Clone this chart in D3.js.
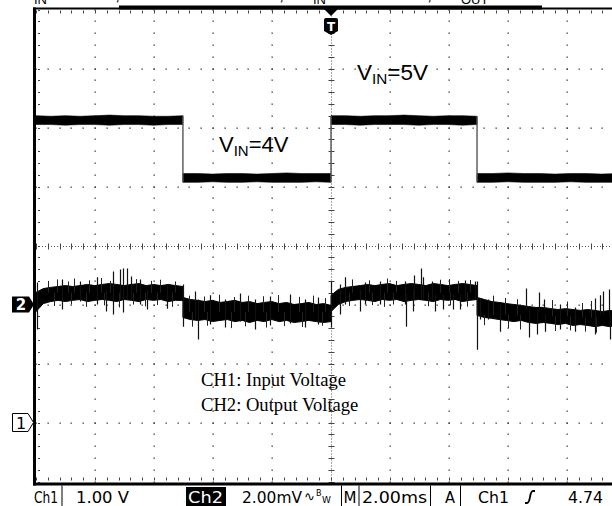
<!DOCTYPE html>
<html>
<head>
<meta charset="utf-8">
<script src="https://cdn.jsdelivr.net/npm/d3@7"></script>
<style>
html, body { margin: 0; padding: 0; background: #fff; }
svg { display: block; }
</style>
</head>
<body>
<script>
var width = 612;
var height = 506;
var left = 36, top0 = 9.5, div = 59;

// scope settings: 2.00ms/div, Ch1 1.00V/div, Ch2 2.00mV/div, 10 x 8 divisions
var timeDomain = [-10, 10];
var ch1Domain = [-1, 7];
var ch2Domain = [-6, 10];

// edges of the input step (ms), segment k runs from segEdges[k] to segEdges[k+1]
var segEdges = [-10, -5.02, 0, 4.95, 9.7];

// CH1 input voltage band (V), upper / lower edge per segment
var ch1Upper = [
  [5.20, 5.19, 5.20, 5.19, 5.20, 5.21, 5.20, 5.20, 5.19, 5.19, 5.20],
  [4.22, 4.22, 4.21, 4.22, 4.22, 4.21, 4.22, 4.23, 4.22, 4.22, 4.22],
  [5.20, 5.20, 5.19, 5.20, 5.20, 5.21, 5.20, 5.19, 5.20, 5.20, 5.19],
  [4.22, 4.22, 4.23, 4.22, 4.22, 4.21, 4.22, 4.22, 4.21, 4.22]
];
var ch1Lower = [
  [5.05, 5.05, 5.04, 5.05, 5.05, 5.04, 5.05, 5.05, 5.04, 5.05, 5.05],
  [4.07, 4.07, 4.08, 4.07, 4.07, 4.08, 4.07, 4.07, 4.07, 4.08, 4.07],
  [5.05, 5.05, 5.04, 5.05, 5.05, 5.05, 5.04, 5.05, 5.05, 5.04, 5.05],
  [4.07, 4.07, 4.08, 4.07, 4.07, 4.07, 4.08, 4.07, 4.07, 4.07]
];

// CH2 output voltage noise band (mV), upper / lower edge per segment
var ch2Upper = [
  [0.41, 0.54, 0.58, 0.61, 0.64, 0.61, 0.64, 0.68, 0.64, 0.68, 0.71, 0.68, 0.64, 0.68, 0.71, 0.64, 0.68, 0.64, 0.68, 0.64, 0.61],
  [0.24, 0.17, 0.14, 0.10, 0.14, 0.07, 0.10, 0.14, 0.07, 0.10, 0.03, 0.07, 0.10, 0.03, 0.07, 0.00, 0.03, 0.07, 0.00, 0.03, -0.03],
  [0.31, 0.51, 0.58, 0.61, 0.64, 0.68, 0.64, 0.68, 0.71, 0.64, 0.68, 0.71, 0.68, 0.64, 0.71, 0.68, 0.64, 0.68, 0.71, 0.68, 0.64],
  [0.24, 0.17, 0.10, 0.07, 0.03, 0.00, -0.03, -0.07, -0.10, -0.10, -0.14, -0.17, -0.14, -0.17, -0.20, -0.17, -0.20, -0.24, -0.20, -0.24]
];
var ch2Lower = [
  [-0.24, 0.03, 0.10, 0.14, 0.10, 0.14, 0.17, 0.10, 0.14, 0.17, 0.14, 0.10, 0.17, 0.14, 0.10, 0.17, 0.14, 0.17, 0.10, 0.14, 0.14],
  [-0.44, -0.51, -0.54, -0.51, -0.58, -0.54, -0.51, -0.58, -0.54, -0.61, -0.54, -0.58, -0.51, -0.58, -0.54, -0.61, -0.58, -0.54, -0.58, -0.61, -0.58],
  [-0.24, 0.00, 0.10, 0.14, 0.17, 0.14, 0.10, 0.17, 0.14, 0.17, 0.10, 0.14, 0.17, 0.14, 0.10, 0.17, 0.14, 0.17, 0.10, 0.14, 0.17],
  [-0.37, -0.44, -0.47, -0.51, -0.54, -0.58, -0.54, -0.61, -0.64, -0.61, -0.64, -0.68, -0.64, -0.71, -0.68, -0.71, -0.75, -0.71, -0.75, -0.71]
];

// CH2 spikes: time (ms), bottom and top (mV)
var spikeT  = [-9.97, -9.12, -8.51, -7.93, -7.63, -7.39, -7.15, -7.05, -6.92, -6.78, -6.47, -6.24, -5.56, -5.02,
               -4.61, -4.51, -4.10, -3.59, -3.08, -2.58, -2.07, -1.39, -0.88, -0.44, 0.00,
               0.31, 0.47, 0.98, 1.15, 1.66, 2.51, 2.54, 2.78, 2.81, 3.05, 3.12, 3.42, 3.53, 3.80, 4.14, 4.37, 4.54, 4.88, 4.95,
               5.05, 5.32, 5.73, 6.61, 6.71, 6.98, 7.05, 7.22, 7.25, 7.76, 8.27, 8.95, 9.12, 9.22, 9.42, 9.46];
var spikeLo = [-0.85, -0.17, 0.10, 0.00, -0.24, -0.34, 0.17, -0.27, 0.17, 0.17, 0.00, -0.17, -0.14, -0.75,
               -0.51, -1.19, -0.68, -0.78, -0.58, -0.85, -0.71, -0.64, -0.78, -0.68, -0.78,
               -0.34, 0.00, -0.24, 0.00, 0.00, 0.00, -0.75, -0.24, 0.17, 0.17, 0.17, 0.17, -0.24, -0.17, -0.17, -0.17, 0.17, 0.17, -1.53,
               -0.51, -0.51, -0.92, -0.17, -1.12, -1.02, -0.17, -0.17, -0.92, -0.85, -0.92, -1.02, -0.34, -0.34, -0.34, -1.19];
var spikeHi = [0.75, 0.85, 0.78, 0.92, 0.51, 1.12, 1.19, 1.22, 1.22, 0.95, 0.85, 0.51, 0.68, 0.68,
               0.44, 0.17, 0.31, 0.17, 0.37, 0.17, 0.27, 0.34, 0.17, 0.24, 0.78,
               0.68, 0.92, 0.51, 0.75, 0.78, 0.78, 0.34, 0.51, 0.98, 1.22, 0.92, 0.78, 0.34, 0.34, 0.34, 0.34, 0.81, 0.78, 0.78,
               0.20, 0.17, 0.00, 0.54, -0.17, -0.17, 0.41, 0.17, -0.34, 0.00, -0.10, 0.20, 0.31, 0.44, 0.51, -0.34];

// CH2 short whiskers just outside the band: time (ms), bottom and top (mV)
var whiskerT  = [-9.6, -9.3, -8.9, -8.7, -8.2, -7.8, -7.5, -6.6, -6.1, -5.8, -5.3,
                 -9.4, -8.8, -8.3, -7.7, -7.2, -6.7, -6.3, -5.9, -5.4,
                 -4.8, -4.3, -3.8, -3.3, -2.8, -2.3, -1.8, -1.1, -0.6, -0.2,
                 -4.7, -4.2, -3.4, -2.9, -2.2, -1.6, -1.0, -0.3,
                 0.7, 1.3, 1.9, 2.2, 3.7, 4.0, 4.3, 4.7,
                 0.6, 1.4, 1.8, 2.1, 3.3, 4.05, 4.6,
                 5.5, 5.9, 6.3, 7.5, 8.0, 8.5, 8.8,
                 5.2, 6.0, 6.4, 7.6, 8.1, 8.6, 9.0];
var whiskerLo = [0.4, 0.4, 0.4, 0.4, 0.4, 0.4, 0.4, 0.4, 0.4, 0.4, 0.4,
                 -0.05, 0.00, -0.08, -0.03, -0.10, 0.00, -0.06, -0.02, -0.08,
                 -0.25, -0.25, -0.25, -0.25, -0.25, -0.25, -0.25, -0.25, -0.25, -0.25,
                 -0.75, -0.72, -0.80, -0.74, -0.78, -0.73, -0.76, -0.72,
                 0.4, 0.4, 0.4, 0.4, 0.4, 0.4, 0.4, 0.4,
                 -0.05, -0.02, -0.08, 0.00, -0.06, -0.03, -0.07,
                 -0.35, -0.35, -0.35, -0.40, -0.40, -0.45, -0.45,
                 -0.70, -0.80, -0.85, -0.90, -0.88, -0.92, -0.95];
var whiskerHi = [0.80, 0.85, 0.78, 0.88, 0.82, 0.90, 0.80, 0.86, 0.80, 0.84, 0.78,
                 0.4, 0.4, 0.4, 0.4, 0.4, 0.4, 0.4, 0.4, 0.4,
                 0.30, 0.27, 0.33, 0.25, 0.30, 0.28, 0.32, 0.26, 0.30, 0.22,
                 -0.25, -0.25, -0.25, -0.25, -0.25, -0.25, -0.25, -0.25,
                 0.85, 0.82, 0.88, 0.80, 0.84, 0.86, 0.80, 0.83,
                 0.4, 0.4, 0.4, 0.4, 0.4, 0.4, 0.4,
                 0.30, 0.22, 0.18, 0.15, 0.10, 0.05, 0.12,
                 -0.35, -0.35, -0.35, -0.40, -0.40, -0.45, -0.45];

var svg = d3.select("body").append("svg")
    .attr("width", width)
    .attr("height", height)
    .attr("viewBox", "0 0 " + width + " " + height);

svg.append("rect").attr("width", width).attr("height", height).attr("fill", "#fff");

var x = d3.scaleLinear().domain(timeDomain).range([left, left + 10 * div]);
var y1 = d3.scaleLinear().domain(ch1Domain).range([top0 + 8 * div, top0]);
var y2 = d3.scaleLinear().domain(ch2Domain).range([top0 + 8 * div, top0]);
var bottom = y1(ch1Domain[0]);

svg.append("clipPath").attr("id", "plot")
  .append("rect")
    .attr("x", left).attr("y", top0)
    .attr("width", 10 * div).attr("height", 8 * div);

// ---- graticule ----
var grid = svg.append("g").attr("fill", "#333");
var minorT = d3.range(0, 51).map(function(i) { return -10 + i * 0.4; });
var minorV = d3.range(0, 41).map(function(i) { return -1 + i * 0.2; });
var divT = [-8, -6, -4, -2, 2, 4, 6, 8];
var divV = [0, 1, 2, 4, 5, 6];

divT.forEach(function(t) {
  grid.selectAll(null).data(minorV).enter().append("rect")
    .attr("x", Math.round(x(t)) - 0.5)
    .attr("y", function(v) { return Math.round(y1(v)) - 0.5; })
    .attr("width", 1.3).attr("height", 1.3);
});
divV.forEach(function(v) {
  grid.selectAll(null).data(minorT).enter().append("rect")
    .attr("x", function(t) { return Math.round(x(t)) - 0.5; })
    .attr("y", Math.round(y1(v)) - 0.5)
    .attr("width", 1.3).attr("height", 1.3);
});

// center cross with fine ticks
var cx = Math.round(x(0)) + 0.5, cy = Math.round(y1(3)) + 0.5;
grid.append("line").attr("x1", cx).attr("x2", cx).attr("y1", top0).attr("y2", bottom)
  .attr("stroke", "#555").attr("stroke-dasharray", "1 2");
grid.append("line").attr("x1", left).attr("x2", width).attr("y1", cy).attr("y2", cy)
  .attr("stroke", "#555").attr("stroke-dasharray", "1 2");
grid.selectAll(null).data(minorV).enter().append("line")
  .attr("x1", cx - 3).attr("x2", cx + 3)
  .attr("y1", function(v) { return Math.round(y1(v)) + 0.5; })
  .attr("y2", function(v) { return Math.round(y1(v)) + 0.5; })
  .attr("stroke", "#444");
grid.selectAll(null).data(minorT).enter().append("line")
  .attr("y1", cy - 3).attr("y2", cy + 3)
  .attr("x1", function(t) { return Math.round(x(t)) + 0.5; })
  .attr("x2", function(t) { return Math.round(x(t)) + 0.5; })
  .attr("stroke", "#444");

// border ticks
grid.selectAll(null).data(minorT).enter().append("line")
  .attr("x1", function(t) { return Math.round(x(t)) + 0.5; })
  .attr("x2", function(t) { return Math.round(x(t)) + 0.5; })
  .attr("y1", top0 + 1).attr("y2", top0 + 4).attr("stroke", "#444");
grid.selectAll(null).data(minorT).enter().append("line")
  .attr("x1", function(t) { return Math.round(x(t)) + 0.5; })
  .attr("x2", function(t) { return Math.round(x(t)) + 0.5; })
  .attr("y1", bottom - 4).attr("y2", bottom - 1).attr("stroke", "#444");
grid.selectAll(null).data(minorV).enter().append("line")
  .attr("x1", left + 2).attr("x2", left + 4)
  .attr("y1", function(v) { return Math.round(y1(v)) + 0.5; })
  .attr("y2", function(v) { return Math.round(y1(v)) + 0.5; })
  .attr("stroke", "#444");

// frame
svg.append("line").attr("x1", left - 1.5).attr("x2", left - 1.5).attr("y1", top0 - 2).attr("y2", bottom + 4)
  .attr("stroke", "#000").attr("stroke-width", 3);
svg.append("line").attr("x1", left - 3).attr("x2", width).attr("y1", top0 - 1).attr("y2", top0 - 1)
  .attr("stroke", "#000").attr("stroke-width", 2);
svg.append("line").attr("x1", left - 3).attr("x2", width).attr("y1", bottom + 2.5).attr("y2", bottom + 2.5)
  .attr("stroke", "#000").attr("stroke-width", 3);

// record position bar and trigger position marker
svg.append("rect").attr("x", 119).attr("y", 5.5).attr("width", 423).attr("height", 4).attr("fill", "#000");
svg.append("path")
  .attr("d", "M" + (x(0) - 7) + ",9 L" + (x(0) + 7) + ",9 L" + x(0) + ",16 Z")
  .attr("fill", "#000");
svg.append("path")
  .attr("d", "M" + (x(0) - 7) + ",20 Q" + (x(0) - 7) + ",18 " + (x(0) - 5) + ",18 L" + (x(0) + 5) + ",18 Q" +
        (x(0) + 7) + ",18 " + (x(0) + 7) + ",20 L" + (x(0) + 7) + ",31 L" + x(0) + ",35 L" + (x(0) - 7) + ",31 Z")
  .attr("fill", "#000");
svg.append("text").attr("x", x(0)).attr("y", 31)
  .attr("text-anchor", "middle").attr("fill", "#fff")
  .attr("font-family", "DejaVu Sans").attr("font-weight", "bold").attr("font-size", 12)
  .text("T");

// ---- traces ----
var traces = svg.append("g").attr("clip-path", "url(#plot)");

function segTimes(k, n) {
  var a = segEdges[k], b = segEdges[k + 1];
  return d3.range(n).map(function(i) { return a + (b - a) * i / (n - 1); });
}

function band(upper, lower, ys) {
  return upper.map(function(up, k) {
    var ts = segTimes(k, up.length);
    return ts.map(function(t, i) { return { t: t, hi: ys(up[i]), lo: ys(lower[k][i]) }; });
  });
}

var area = d3.area()
  .x(function(d) { return x(d.t); })
  .y0(function(d) { return d.lo; })
  .y1(function(d) { return d.hi; });

// CH1
var ch1Bands = band(ch1Upper, ch1Lower, y1);
traces.selectAll(".ch1").data(ch1Bands).enter().append("path")
  .attr("class", "ch1")
  .attr("d", area)
  .attr("fill", "#000")
  .attr("stroke", "#000").attr("stroke-width", 0.6);
// CH1 step edges
traces.selectAll(".ch1edge").data(segEdges.slice(1, -1)).enter().append("line")
  .attr("class", "ch1edge")
  .attr("x1", function(t) { return x(t); })
  .attr("x2", function(t) { return x(t); })
  .attr("y1", function(t, i) { return y1(d3.min([ch1Lower[i][ch1Lower[i].length - 1], ch1Lower[i + 1][0]])); })
  .attr("y2", function(t, i) { return y1(d3.max([ch1Upper[i][ch1Upper[i].length - 1], ch1Upper[i + 1][0]])); })
  .attr("stroke", "#555").attr("stroke-width", 1.4);

// CH2
var ch2Bands = band(ch2Upper, ch2Lower, y2);
traces.selectAll(".ch2").data(ch2Bands).enter().append("path")
  .attr("class", "ch2")
  .attr("d", area)
  .attr("fill", "#000")
  .attr("stroke", "#000").attr("stroke-width", 1);
traces.selectAll(".whisker").data(whiskerT).enter().append("line")
  .attr("class", "whisker")
  .attr("x1", function(t) { return Math.round(x(t)) + 0.5; })
  .attr("x2", function(t) { return Math.round(x(t)) + 0.5; })
  .attr("y1", function(t, i) { return y2(whiskerLo[i]); })
  .attr("y2", function(t, i) { return y2(whiskerHi[i]); })
  .attr("stroke", "#222").attr("stroke-width", 1);
traces.selectAll(".spike").data(spikeT).enter().append("line")
  .attr("class", "spike")
  .attr("x1", function(t) { return Math.round(x(t)) + 0.5; })
  .attr("x2", function(t) { return Math.round(x(t)) + 0.5; })
  .attr("y1", function(t, i) { return y2(spikeLo[i]); })
  .attr("y2", function(t, i) { return y2(spikeHi[i]); })
  .attr("stroke", "#111").attr("stroke-width", 1.2);

// ---- channel ground markers ----
var g2 = y2(0), g1 = y1(0);
svg.append("path")
  .attr("d", "M12," + (g2 - 8) + " L29," + (g2 - 8) + " L34," + g2 + " L29," + (g2 + 8) + " L12," + (g2 + 8) + " Z")
  .attr("fill", "#000");
svg.append("text").attr("x", 21).attr("y", g2 + 5.5)
  .attr("text-anchor", "middle").attr("fill", "#fff")
  .attr("font-family", "DejaVu Sans").attr("font-weight", "bold").attr("font-size", 15)
  .text("2");
svg.append("path")
  .attr("d", "M12.5," + (g1 - 9) + " L28," + (g1 - 9) + " L33.5," + g1 + " L28," + (g1 + 9) + " L12.5," + (g1 + 9) + " Z")
  .attr("fill", "#fff").attr("stroke", "#000").attr("stroke-width", 1);
svg.append("text").attr("x", 21).attr("y", g1 + 6)
  .attr("text-anchor", "middle").attr("fill", "#000")
  .attr("font-family", "DejaVu Sans").attr("font-size", 16)
  .text("1");

// ---- annotations ----
function vin(xp, yp, level, fs) {
  var t = svg.append("text").attr("x", xp).attr("y", yp)
    .attr("font-family", "Liberation Sans, Arial, sans-serif").attr("font-size", fs).attr("fill", "#000");
  t.append("tspan").text("V");
  t.append("tspan").attr("font-size", fs * 0.68).attr("dy", 4).text("IN");
  t.append("tspan").attr("dy", -4).text("=" + level);
}
vin(357, 80, "5V", 22.5);
vin(219, 152, "4V", 22);

svg.append("text").attr("x", 201).attr("y", 386)
  .attr("font-family", "Liberation Serif, Times New Roman, serif").attr("font-size", 18.6)
  .text("CH1: Input Voltage");
svg.append("text").attr("x", 201).attr("y", 411)
  .attr("font-family", "Liberation Serif, Times New Roman, serif").attr("font-size", 18.6)
  .text("CH2: Output Voltage");

// clipped caption line above the screen
var cap = svg.append("g").attr("font-family", "Liberation Sans, Arial, sans-serif").attr("fill", "#000");
[[34, "IN"], [313, "IN"], [461, "OUT"]].forEach(function(s) {
  cap.append("text").attr("x", s[0]).attr("y", 4).attr("font-size", 13).text(s[1]);
});
[115, 279, 427].forEach(function(xp) {
  cap.append("text").attr("x", xp).attr("y", 0).attr("font-size", 18).text(",");
});

// ---- status bar ----
var sb = svg.append("g").attr("font-family", "DejaVu Sans, sans-serif").attr("font-size", 16).attr("fill", "#000");
function field(xp, w, s, color) {
  sb.append("text").attr("x", xp).attr("y", 503)
    .attr("textLength", w).attr("lengthAdjust", "spacingAndGlyphs")
    .attr("fill", color || "#000").text(s);
}
sb.append("rect").attr("x", 186).attr("y", 487).attr("width", 40).attr("height", 19).attr("fill", "#000");
field(34, 24, "Ch1");
field(76, 53, "1.00 V");
field(188, 35, "Ch2", "#fff");
field(242, 60, "2.00mV");
field(343.5, 13, "M");
field(362, 65, "2.00ms");
field(445, 10, "A");
field(478, 31, "Ch1");
field(568, 35, "4.74");
sb.append("text").attr("x", 304).attr("y", 501).attr("font-size", 13).text("\u223F");
sb.append("text").attr("x", 316).attr("y", 496).attr("font-size", 8).text("B");
sb.append("text").attr("x", 322).attr("y", 503).attr("font-size", 9).text("W");
[62, 341.5, 359, 430.5, 460.5].forEach(function(xp) {
  sb.append("line").attr("x1", xp).attr("x2", xp).attr("y1", bottom + 4).attr("y2", height)
    .attr("stroke", "#000").attr("stroke-width", 1);
});
sb.append("path").attr("d", "M525,503 L527,503 Q529,503 530,497 Q531,491 533,491 L535,491")
  .attr("fill", "none").attr("stroke", "#000").attr("stroke-width", 1.8);
</script>
</body>
</html>
